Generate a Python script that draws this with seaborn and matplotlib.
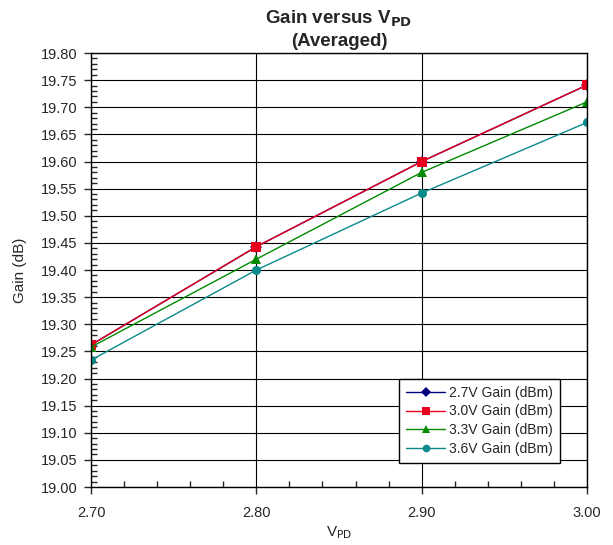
import pandas as pd
import matplotlib.pyplot as plt
import seaborn as sns
from matplotlib.ticker import MultipleLocator, FormatStrFormatter

# datos
vpd = [2.70, 2.80, 2.90, 3.00]
gain_27 = [19.262, 19.443, 19.60, 19.741]
gain_30 = [19.262, 19.443, 19.60, 19.741]
gain_33 = [19.258, 19.42, 19.58, 19.71]
gain_36 = [19.234, 19.40, 19.542, 19.672]
series = ["2.7V Gain (dBm)", "3.0V Gain (dBm)", "3.3V Gain (dBm)", "3.6V Gain (dBm)"]

df = pd.DataFrame({
    "VPD": vpd * 4,
    "Gain": gain_27 + gain_30 + gain_33 + gain_36,
    "Serie": [s for s in series for _ in vpd],
})

colores = {series[0]: "#000080", series[1]: "#e8001c", series[2]: "#008a00", series[3]: "#0a8a8a"}
marcas = {series[0]: "D", series[1]: "s", series[2]: "^", series[3]: "o"}

sns.set_style("white")
plt.rcParams['font.family'] = ['Liberation Sans', 'DejaVu Sans']

fig = plt.figure(figsize=(6.13, 5.45), dpi=100)
ax = fig.add_axes([0.1485, 0.1064, 0.8091, 0.7963])

sns.lineplot(data=df, x="VPD", y="Gain", hue="Serie", style="Serie",
             palette=colores, markers=marcas, dashes=False, linewidth=1.0,
             markersize=6.5, markeredgewidth=0, ax=ax)

ax.set_xlim(2.70, 3.00)
ax.set_ylim(19.00, 19.80)
ax.xaxis.set_major_locator(MultipleLocator(0.1))
ax.xaxis.set_minor_locator(MultipleLocator(0.02))
ax.yaxis.set_major_locator(MultipleLocator(0.05))
ax.yaxis.set_minor_locator(MultipleLocator(0.01))
ax.xaxis.set_major_formatter(FormatStrFormatter('%.2f'))
ax.yaxis.set_major_formatter(FormatStrFormatter('%.2f'))
ax.tick_params(which='major', direction='out', length=5, width=1, labelsize=10.5, pad=5)
ax.tick_params(axis='x', which='major', pad=9)
ax.tick_params(which='minor', direction='in', length=4, width=1)
ax.tick_params(axis='x', which='both', bottom=True)
ax.tick_params(axis='y', which='both', left=True)
ax.grid(True, which='major', color='black', linewidth=0.8)
ax.set_axisbelow(True)
for sp in ax.spines.values():
    sp.set_color('black')
    sp.set_linewidth(1)

ax.set_title("Gain versus V$_{\\mathbf{PD}}$\n(Averaged)", fontsize=13.5, fontweight='bold',
             pad=5, linespacing=1.3)
ax.set_xlabel("V$_{\\mathrm{PD}}$", fontsize=11, labelpad=3)
ax.set_ylabel("Gain (dB)", fontsize=11, labelpad=10)

leg = ax.legend(loc='lower right', bbox_to_anchor=(0.96, 0.039), fontsize=10, frameon=True,
                fancybox=False, edgecolor='black', framealpha=1, handlelength=2.8,
                markerscale=0.85, borderpad=0.5, labelspacing=0.35, handletextpad=0.3)
leg.get_frame().set_linewidth(1)

plt.savefig("out.png", dpi=100)
